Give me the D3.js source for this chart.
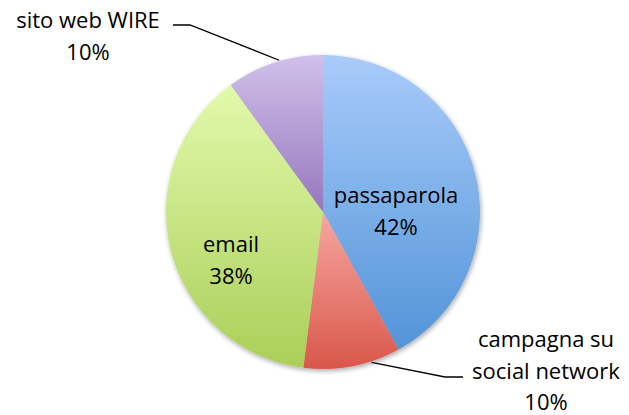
<!DOCTYPE html>
<html><head><meta charset="utf-8">
<script src="https://cdn.jsdelivr.net/npm/d3@7"></script>
<style>body{margin:0;background:#fff}svg{display:block}text{font-family:"Open Sans",sans-serif;font-size:22px;fill:#000}</style>
</head><body>
<svg id="c" width="629" height="415"></svg>
<script>
const categories = ["passaparola", "campagna su social network", "email", "sito web WIRE"];
const values = [42, 10, 38, 10];
const labelLines = [["passaparola","42%"],["campagna su","social network","10%"],["email","38%"],["sito web WIRE","10%"]];
const topColors = ["#a9cbfa", "#f7a7a1", "#e2f9ac", "#d0c0ea"];
const bottomColors = ["#5294d8", "#d9574a", "#aacf58", "#9677bd"];

const svg = d3.select("#c");
const cx = 323, cy = 212, R = 157;
const defs = svg.append("defs");
categories.forEach((c,i)=>{
  const g = defs.append("linearGradient").attr("id","g"+i).attr("x1",0).attr("y1",0).attr("x2",0).attr("y2",1);
  g.append("stop").attr("offset","0%").attr("stop-color",topColors[i]);
  g.append("stop").attr("offset","100%").attr("stop-color",bottomColors[i]);
});
const f = defs.append("filter").attr("id","sh").attr("x","-20%").attr("y","-20%").attr("width","140%").attr("height","140%");
f.append("feGaussianBlur").attr("in","SourceAlpha").attr("stdDeviation",2.5);
f.append("feOffset").attr("dx",1).attr("dy",2).attr("result","b");
f.append("feComponentTransfer").append("feFuncA").attr("type","linear").attr("slope",0.35);
const m = f.append("feMerge"); m.append("feMergeNode"); m.append("feMergeNode").attr("in","SourceGraphic");

const pie = d3.pie().sort(null).value(d=>d)(values);
const arc = d3.arc().innerRadius(0).outerRadius(R);
const g = svg.append("g").attr("transform",`translate(${cx},${cy})`).attr("filter","url(#sh)");
g.selectAll("path").data(pie).join("path").attr("d",arc).attr("fill",(d,i)=>`url(#g${i})`);

const lab = svg.append("g");
function block(lines, x, y, lh){
  const t = lab.append("text").attr("text-anchor","middle");
  lines.forEach((l,k)=>t.append("tspan").attr("x",x).attr("y",y+k*lh).text(l));
}
const labelPos = [[396,203],[546,347],[231,252],[88,28]];
labelLines.forEach((ls,i)=>block(ls, labelPos[i][0], labelPos[i][1], i===1?31.5:31.5));

function edgePt(d, frac){
  const a = d.startAngle + (d.endAngle-d.startAngle)*frac;
  return [cx + R*Math.sin(a), cy - R*Math.cos(a)];
}
const p1 = edgePt(pie[1], 0.3);
svg.append("polyline").attr("points",[[p1[0],p1[1]+1],[445,377],[463,377]].map(p=>p.join(",")).join(" "))
  .attr("fill","none").attr("stroke","#000").attr("stroke-width",1.3);
const p3 = edgePt(pie[3], 0.55);
svg.append("polyline").attr("points",[[p3[0],p3[1]-1],[190,25],[173,25]].map(p=>p.join(",")).join(" "))
  .attr("fill","none").attr("stroke","#000").attr("stroke-width",1.3);
</script>
</body></html>
